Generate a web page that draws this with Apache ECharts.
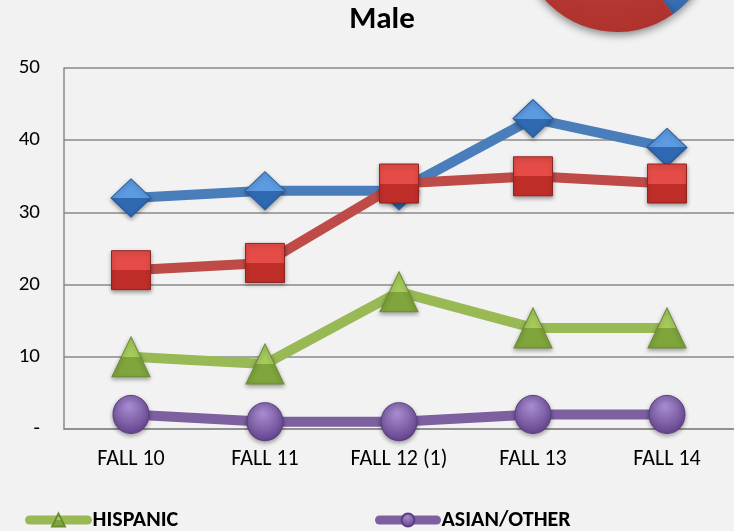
<!DOCTYPE html>
<html>
<head>
<meta charset="utf-8">
<script src="https://cdn.jsdelivr.net/npm/echarts@6/dist/echarts.min.js"></script>
<style>
  html, body { margin: 0; padding: 0; background: #F2F2F2; }
  #chart { width: 734px; height: 531px; }
</style>
</head>
<body>
<div id="chart"></div>
<script>
// Enrollment by term, male students
const terms = ['FALL 10', 'FALL 11', 'FALL 12 (1)', 'FALL 13', 'FALL 14'];
const whiteMale    = [32, 33, 33, 43, 39];
const blackMale    = [22, 23, 34, 35, 34];
const hispanicMale = [10, 9, 19, 14, 14];
const asianMale    = [2, 1, 1, 2, 2];
const yTicks = [0, 10, 20, 30, 40, 50];

// Companion pie (mostly off the top edge)
const pieSegments = ['Segment A', 'Segment B'];
const pieValues = [18, 82];

const FONT = 'Carlito, Lato, "Liberation Sans", sans-serif';

function vgrad(top, bottom) {
  return new echarts.graphic.LinearGradient(0, 0, 0, 1, [
    { offset: 0, color: top },
    { offset: 0.5, color: top },
    { offset: 0.5, color: bottom },
    { offset: 1, color: bottom }
  ]);
}
function sphere(light, dark) {
  return new echarts.graphic.RadialGradient(0.45, 0.3, 0.75, [
    { offset: 0, color: light },
    { offset: 1, color: dark }
  ]);
}

const markerShadow = {
  shadowBlur: 4, shadowColor: 'rgba(0,0,0,0.35)', shadowOffsetY: 2
};

function lineSeries(name, data, lineColor, symbol, size, fill, border) {
  return {
    name, type: 'line', data,
    symbol, symbolSize: size,
    showSymbol: true,
    animation: false,
    lineStyle: { color: lineColor, width: 10, cap: 'round', join: 'round' },
    itemStyle: Object.assign({ color: fill, borderColor: border, borderWidth: 1 }, markerShadow),
    emphasis: { disabled: true }
  };
}

const legendText = { fontFamily: FONT, fontSize: 22, fontWeight: 'bold', color: '#000' };

const chart = echarts.init(document.getElementById('chart'), null, { renderer: 'canvas' });

chart.setOption({
  backgroundColor: '#F2F2F2',
  animation: false,
  title: {
    text: 'Male',
    left: 377, top: 0,
    textAlign: 'center',
    textStyle: { fontFamily: FONT, fontSize: 31, fontWeight: 'bold', color: '#000' }
  },
  grid: { left: 64, right: -1, top: 68, bottom: 102, containLabel: false },
  xAxis: {
    type: 'category',
    data: terms,
    boundaryGap: true,
    axisLine: { lineStyle: { color: '#8A8A8A', width: 1.5 } },
    axisTick: { show: false },
    axisLabel: { fontFamily: FONT, fontSize: 22, color: '#000', margin: 19 }
  },
  yAxis: {
    type: 'value',
    min: yTicks[0], max: yTicks[yTicks.length - 1], interval: 10,
    axisLine: { show: true, lineStyle: { color: '#8A8A8A', width: 1.5 } },
    axisTick: { show: false },
    splitLine: { lineStyle: { color: '#8A8A8A', width: 1.5 } },
    axisLabel: {
      fontFamily: FONT, fontSize: 21, color: '#000', margin: 24,
      formatter: v => (v === 0 ? '-' : String(v))
    }
  },
  legend: [
    {
      data: ['HISPANIC'],
      left: 20, top: 504,
      itemWidth: 58, itemHeight: 16,
      lineStyle: { width: 9 },
      textStyle: legendText
    },
    {
      data: ['ASIAN/OTHER'],
      left: 370, top: 504,
      itemWidth: 57, itemHeight: 16,
      lineStyle: { width: 9 },
      textStyle: legendText
    }
  ],
  series: [
    {
      type: 'pie',
      silent: true,
      animation: false,
      center: [617, -65],
      radius: 97,
      startAngle: 10,
      clockwise: true,
      label: { show: false },
      labelLine: { show: false },
      data: pieValues.map((v, i) => ({
        name: pieSegments[i], value: v,
        itemStyle: {
          color: i === 0 ? sphere('#5A93D6', '#2E64A8') : sphere('#CF4640', '#AD312C'),
          shadowBlur: 8, shadowColor: 'rgba(0,0,0,0.45)', shadowOffsetY: 3
        }
      }))
    },
    lineSeries('WHITE', whiteMale, '#4A7EBB', 'diamond', [40, 38],
      vgrad('#5C9BE2', '#2F69B2'), '#2A5C9C'),
    lineSeries('BLACK', blackMale, '#BE4B48', 'rect', [39, 39],
      vgrad('#E54C47', '#C02E2A'), '#8E2522'),
    lineSeries('HISPANIC', hispanicMale, '#98B954', 'triangle', [38, 40],
      vgrad('#A6CB5C', '#7FA53C'), '#6A8B33'),
    lineSeries('ASIAN/OTHER', asianMale, '#7D60A0', 'circle', [36, 38],
      sphere('#A88BD0', '#5E3F88'), '#5A3E82')
  ]
});
</script>
</body>
</html>
